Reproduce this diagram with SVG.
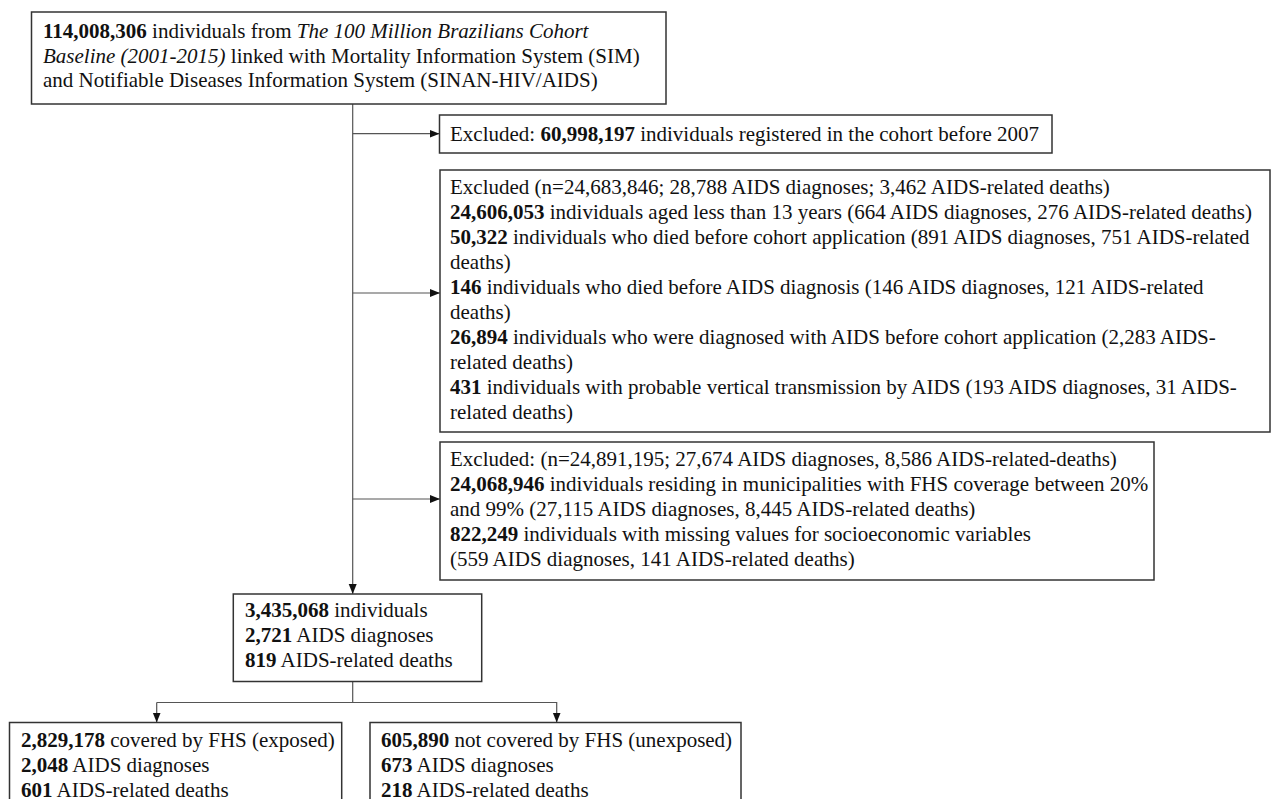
<svg xmlns="http://www.w3.org/2000/svg" width="1275" height="799" viewBox="0 0 1275 799">
<style>
text{font-family:"Liberation Serif","Times New Roman",serif;font-size:21px;fill:#111}
.b{font-weight:bold}
.i{font-style:italic}
.box{fill:#fff;stroke:#333;stroke-width:1.5}
.con{fill:none;stroke:#555;stroke-width:1.2}
</style>
<defs>
<marker id="ah" markerUnits="userSpaceOnUse" markerWidth="10" markerHeight="10" viewBox="0 0 10 10" refX="10" refY="5" orient="auto">
<path d="M0,1 L10,5 L0,9 Z" fill="#111"/>
</marker>
</defs>
<rect width="1275" height="799" fill="#fff"/>
<g id="connectors">
<line class="con" x1="352.7" y1="104" x2="352.7" y2="594" marker-end="url(#ah)"/>
<line class="con" x1="352.7" y1="133.7" x2="439.5" y2="133.7" marker-end="url(#ah)"/>
<line class="con" x1="352.7" y1="293" x2="440" y2="293" marker-end="url(#ah)"/>
<line class="con" x1="352.7" y1="499" x2="440" y2="499" marker-end="url(#ah)"/>
<line class="con" x1="352.7" y1="681.5" x2="352.7" y2="702.5"/>
<polyline class="con" points="156.7,702.5 556.7,702.5 556.7,722.5" marker-end="url(#ah)"/>
<line class="con" x1="156.7" y1="702.5" x2="156.7" y2="722.5" marker-end="url(#ah)"/>
</g>
<g id="source">
<rect class="box" x="31.5" y="12" width="634.5" height="92"/>
<text x="43" y="38"><tspan class="b">114,008,306</tspan> individuals from <tspan class="i">The 100 Million Brazilians Cohort</tspan></text>
<text x="43" y="62.5"><tspan class="i">Baseline (2001-2015)</tspan> linked with Mortality Information System (SIM)</text>
<text x="43" y="87">and Notifiable Diseases Information System (SINAN-HIV/AIDS)</text>
</g>
<g id="excl1">
<rect class="box" x="439.5" y="115" width="612.5" height="38"/>
<text x="450" y="141">Excluded: <tspan class="b">60,998,197</tspan> individuals registered in the cohort before 2007</text>
</g>
<g id="excl2">
<rect class="box" x="440" y="170" width="830" height="262"/>
<text x="450" y="194">Excluded (n=24,683,846; 28,788 AIDS diagnoses; 3,462 AIDS-related deaths)</text>
<text x="450" y="219"><tspan class="b">24,606,053</tspan> individuals aged less than 13 years (664 AIDS diagnoses, 276 AIDS-related deaths)</text>
<text x="450" y="244"><tspan class="b">50,322</tspan> individuals who died before cohort application (891 AIDS diagnoses, 751 AIDS-related</text>
<text x="450" y="269">deaths)</text>
<text x="450" y="294"><tspan class="b">146</tspan> individuals who died before AIDS diagnosis (146 AIDS diagnoses, 121 AIDS-related</text>
<text x="450" y="319">deaths)</text>
<text x="450" y="344"><tspan class="b">26,894</tspan> individuals who were diagnosed with AIDS before cohort application (2,283 AIDS-</text>
<text x="450" y="369">related deaths)</text>
<text x="450" y="394"><tspan class="b">431</tspan> individuals with probable vertical transmission by AIDS (193 AIDS diagnoses, 31 AIDS-</text>
<text x="450" y="419">related deaths)</text>
</g>
<g id="excl3">
<rect class="box" x="440" y="442" width="714" height="138"/>
<text x="450" y="466">Excluded: (n=24,891,195; 27,674 AIDS diagnoses, 8,586 AIDS-related-deaths)</text>
<text x="450" y="491"><tspan class="b">24,068,946</tspan> individuals residing in municipalities with FHS coverage between 20%</text>
<text x="450" y="516">and 99% (27,115 AIDS diagnoses, 8,445 AIDS-related deaths)</text>
<text x="450" y="541"><tspan class="b">822,249</tspan> individuals with missing values for socioeconomic variables</text>
<text x="450" y="566">(559 AIDS diagnoses, 141 AIDS-related deaths)</text>
</g>
<g id="cohort">
<rect class="box" x="233.3" y="594" width="248.4" height="87.5"/>
<text x="245" y="617"><tspan class="b">3,435,068</tspan> individuals</text>
<text x="245" y="642"><tspan class="b">2,721</tspan> AIDS diagnoses</text>
<text x="245" y="667"><tspan class="b">819</tspan> AIDS-related deaths</text>
</g>
<g id="exposed">
<rect class="box" x="9.5" y="722.5" width="332.2" height="100"/>
<text x="21" y="746.5"><tspan class="b">2,829,178</tspan> covered by FHS (exposed)</text>
<text x="21" y="771.5"><tspan class="b">2,048</tspan> AIDS diagnoses</text>
<text x="21" y="796.5"><tspan class="b">601</tspan> AIDS-related deaths</text>
</g>
<g id="unexposed">
<rect class="box" x="370" y="722.5" width="371" height="100"/>
<text x="381" y="746.5"><tspan class="b">605,890</tspan> not covered by FHS (unexposed)</text>
<text x="381" y="771.5"><tspan class="b">673</tspan> AIDS diagnoses</text>
<text x="381" y="796.5"><tspan class="b">218</tspan> AIDS-related deaths</text>
</g>
</svg>
